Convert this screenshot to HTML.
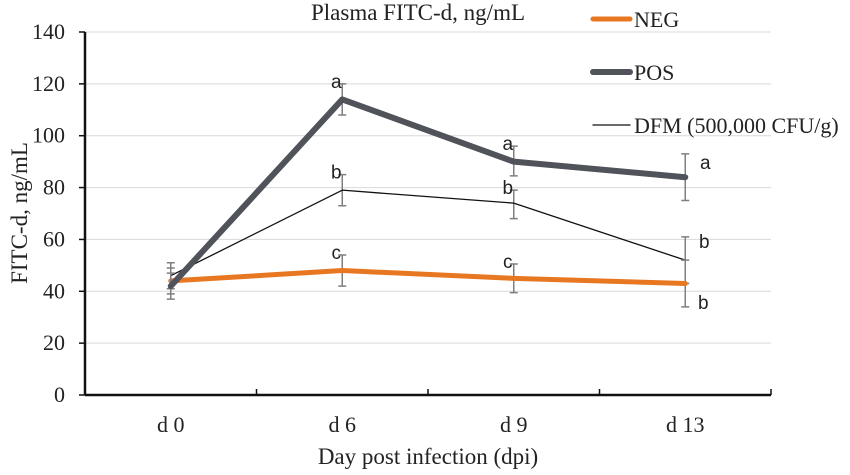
<!DOCTYPE html>
<html><head><meta charset="utf-8"><style>
body{margin:0;background:#fff}
svg text{font-family:"Liberation Serif",serif;fill:#222}
.s{font-family:"Liberation Sans",sans-serif !important}
</style></head><body>
<svg id="c" width="850" height="470"></svg>
<script>
const categories=["d 0","d 6","d 9","d 13"];
const yTicks=[0,20,40,60,80,100,120,140];
const negValues=[44,48,45,43];
const negLow=[39,42,39.5,34];
const negHigh=[49,54,50.5,52];
const posValues=[42,114,90,84];
const posLow=[37,108,84.5,75];
const posHigh=[47,120,96,93];
const dfmValues=[46,79,74,52];
const dfmLow=[41,73,68,43];
const dfmHigh=[51,85,79,61];
const posLetters=["","a","a","a"];
const dfmLetters=["","b","b","b"];
const negLetters=["","c","c","b"];
const NS="http://www.w3.org/2000/svg";
const svg=document.getElementById('c');
const X0=85,X1=771,Y0=395,Y1=32,YMAX=140;
const bw=(X1-X0)/categories.length;
const xs=i=>X0+bw*(i+0.5);
const ys=v=>Y0-(v/YMAX)*(Y0-Y1);
function el(t,a,txt){const e=document.createElementNS(NS,t);for(const k in a)e.setAttribute(k,a[k]);if(txt!==undefined)e.textContent=txt;svg.appendChild(e);return e;}
yTicks.forEach(v=>{
 if(v>0){const g=el('line',{x1:X0,x2:X1,y1:ys(v),y2:ys(v),stroke:'#d9d9d9','stroke-width':1});
 
 }
 const t=el('text',{x:65,y:ys(v)+7,'text-anchor':'end','font-size':22},v);
 
 
 const tk=el('line',{x1:X0-6,x2:X0,y1:ys(v),y2:ys(v),stroke:'#111','stroke-width':1.5});
 
 
});
let a=el('line',{x1:X0,x2:X0,y1:Y1,y2:Y0,stroke:'#111','stroke-width':2.5});


a=el('line',{x1:X0,x2:X1,y1:Y0,y2:Y0,stroke:'#111','stroke-width':2.5});


for(let i=1;i<=categories.length;i++){const t=el('line',{x1:X0+bw*i,x2:X0+bw*i,y1:Y0-6,y2:Y0,stroke:'#111','stroke-width':1.5});
 
 }
categories.forEach((c,i)=>{const t=el('text',{x:xs(i),y:432,'text-anchor':'middle','font-size':22},c);
 
 });
function series(name,vals,lo,hi,color,w){
 vals.forEach((v,i)=>{const e=el('path',{d:`M${xs(i)-4},${ys(hi[i])}H${xs(i)+4}M${xs(i)},${ys(hi[i])}V${ys(lo[i])}M${xs(i)-4},${ys(lo[i])}H${xs(i)+4}`,stroke:'#7f7f7f','stroke-width':1.5,fill:'none'});
  
  });
 const p=el('polyline',{points:vals.map((v,i)=>xs(i)+','+ys(v)).join(' '),fill:'none',stroke:color,'stroke-width':w,'stroke-linejoin':'round','stroke-linecap':'round'});
 
 
}
series('dfm',dfmValues,dfmLow,dfmHigh,'#111',1.3);
series('neg',negValues,negLow,negHigh,'#e87722',5);
series('pos',posValues,posLow,posHigh,'#505359',6);
function letters(name,L,hi,dx,dy){L.forEach((l,i)=>{if(!l)return;
 const t=el('text',{x:xs(i)+dx(i),y:ys(hi[i])+dy(i),'text-anchor':'middle','font-size':19,class:'s'},l);
 
 });}
letters('pos',posLetters,posHigh,i=>i==3?20:-6,i=>i==3?15:4);
letters('dfm',dfmLetters,dfmHigh,i=>i==3?19:-6,i=>i==3?11:4);
letters('neg',negLetters,negHigh,i=>i==3?18:-6,i=>i==3?-52:4);
svg.lastChild.setAttribute('y',ys(negLow[3])+2);
const t1=el('text',{x:418,y:20,'text-anchor':'middle','font-size':23},'Plasma FITC-d, ng/mL');


const t2=el('text',{x:428,y:464,'text-anchor':'middle','font-size':23},'Day post infection (dpi)');


const t3=el('text',{x:0,y:0,'text-anchor':'middle','font-size':23,transform:'translate(27,213) rotate(-90)'},'FITC-d, ng/mL');


[['NEG','#e87722',5,19],['POS','#505359',6,72],['DFM (500,000 CFU/g)','#111',1.3,125]].forEach(([n,c,w,y])=>{
 const l=el('line',{x1:593,x2:630,y1:y,y2:y,stroke:c,'stroke-width':w,'stroke-linecap':'round'});
 
 
 const t=el('text',{x:634,y:y+8,'font-size':22},n);
 
 
});
</script>
</body></html>
